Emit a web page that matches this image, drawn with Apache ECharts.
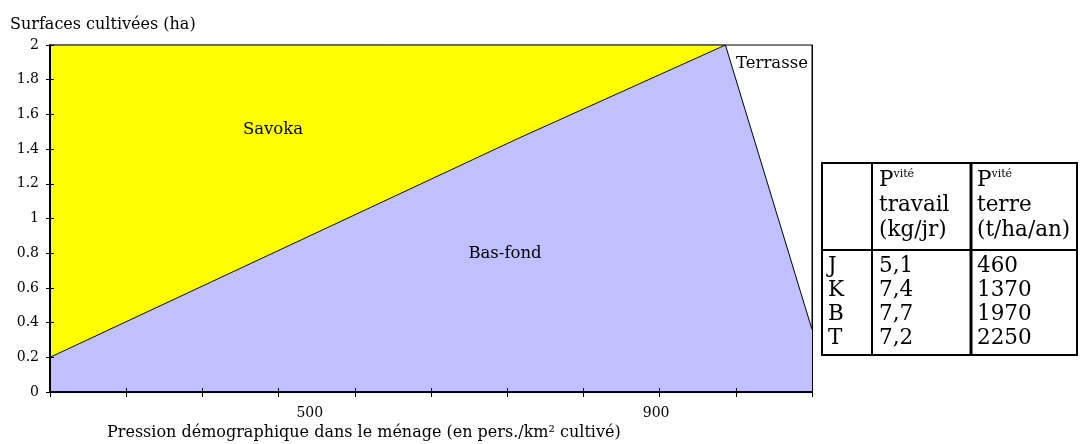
<!DOCTYPE html>
<html>
<head>
<meta charset="utf-8">
<script src="https://cdn.jsdelivr.net/npm/echarts@6/dist/echarts.min.js"></script>
<style>
html,body{margin:0;padding:0;background:#fff;}
#chart{width:1080px;height:444px;}
</style>
</head>
<body>
<div id="chart"></div>
<script>
// ---- data ----
const xTicks = [200, 288, 376, 464, 552, 640, 728, 816, 904, 992, 1080];
const xLabels = [500, 900];
const savokaX = [200, 980];
const savokaY = [2, 2];
const basFondX = [200, 740, 980, 1080];
const basFondY = [0.2, 1.46, 2.0, 0.36];
const tableRows = ['J', 'K', 'B', 'T'];
const prodTravail = ['5,1', '7,4', '7,7', '7,2'];
const prodTerre = ['460', '1370', '1970', '2250'];

const FONT = 'DejaVu Serif';
const chart = echarts.init(document.getElementById('chart'), null, {renderer: 'canvas'});

const savokaData = savokaX.map((x, i) => [x, savokaY[i]]);
const basFondData = basFondX.map((x, i) => [x, basFondY[i]]);

// table graphics
const tX = 822, tY = 163, tW = 255, tH = 192;
const c1 = 872, c2 = 971, hSep = 250;
const rowY = [266, 290, 314, 338];
const TF = 21.5;
const tableEls = [
  {type: 'rect', shape: {x: tX, y: tY, width: tW, height: tH}, style: {fill: 'none', stroke: '#000', lineWidth: 2}},
  {type: 'line', shape: {x1: c1, y1: tY, x2: c1, y2: tY + tH}, style: {stroke: '#000', lineWidth: 2}},
  {type: 'line', shape: {x1: c2, y1: tY, x2: c2, y2: tY + tH}, style: {stroke: '#000', lineWidth: 3}},
  {type: 'line', shape: {x1: tX, y1: hSep, x2: tX + tW, y2: hSep}, style: {stroke: '#000', lineWidth: 2}}
];
const hdr = (x, w1, w2) => [
  {type: 'text', x: x, y: 169, style: {text: '{p|P}{s|vité}', verticalAlign: 'top', rich: {p: {fontFamily: FONT, fontSize: TF, fill: '#000', verticalAlign: 'top'}, s: {fontFamily: FONT, fontSize: 11, fill: '#000', verticalAlign: 'top'}}}},
  {type: 'text', x: x, y: 205, style: {text: w1, fontFamily: FONT, fontSize: TF, fill: '#000', verticalAlign: 'middle'}},
  {type: 'text', x: x, y: 230, style: {text: w2, fontFamily: FONT, fontSize: TF, fill: '#000', verticalAlign: 'middle'}}
];
tableEls.push(...hdr(879, 'travail', '(kg/jr)'));
tableEls.push(...hdr(977, 'terre', '(t/ha/an)'));
tableRows.forEach((r, i) => {
  tableEls.push({type: 'text', x: 828, y: rowY[i], style: {text: r, fontFamily: FONT, fontSize: TF, fill: '#000', verticalAlign: 'middle'}});
  tableEls.push({type: 'text', x: 879, y: rowY[i], style: {text: prodTravail[i], fontFamily: FONT, fontSize: TF, fill: '#000', verticalAlign: 'middle'}});
  tableEls.push({type: 'text', x: 977, y: rowY[i], style: {text: prodTerre[i], fontFamily: FONT, fontSize: TF, fill: '#000', verticalAlign: 'middle'}});
});

const txt = (t, x, y, size, align) => ({type: 'text', x: x, y: y, z: 100, style: {text: t, fontFamily: FONT, fontSize: size, fill: '#000', align: align || 'center', verticalAlign: 'middle'}});

const option = {
  backgroundColor: '#fff',
  animation: false,
  grid: {left: 50, right: 268, top: 45, bottom: 52, show: true, borderColor: '#000', borderWidth: 1, backgroundColor: 'transparent'},
  xAxis: [
    {type: 'value', min: 200, max: 1080, position: 'bottom', z: 10,
     axisLine: {show: true, lineStyle: {color: '#000', width: 2}},
     axisTick: {show: true, inside: false, length: 5, customValues: xTicks, lineStyle: {color: '#000', width: 1}},
     axisLabel: {show: true, customValues: xLabels, margin: 14, fontFamily: FONT, fontSize: 14, color: '#000'},
     splitLine: {show: false}},
    {type: 'value', min: 200, max: 1080, position: 'bottom', offset: 0, z: 10,
     axisLine: {show: false},
     axisTick: {show: true, inside: true, length: 4, customValues: xTicks, lineStyle: {color: '#000', width: 1}},
     axisLabel: {show: false}, splitLine: {show: false}}
  ],
  yAxis: [
    {type: 'value', min: 0, max: 2, interval: 0.2, position: 'left', z: 10,
     axisLine: {show: true, lineStyle: {color: '#000', width: 2}},
     axisTick: {show: true, inside: false, length: 4, lineStyle: {color: '#000', width: 1}},
     axisLabel: {margin: 11, fontFamily: FONT, fontSize: 14, color: '#000'},
     splitLine: {show: false}},
    {type: 'value', min: 0, max: 2, interval: 0.2, position: 'left', offset: 0, z: 10,
     axisLine: {show: false},
     axisTick: {show: true, inside: true, length: 4, lineStyle: {color: '#000', width: 1}},
     axisLabel: {show: false}, splitLine: {show: false}},
    {type: 'value', min: 0, max: 2, position: 'right', offset: 0, z: 10,
     axisLine: {show: true, lineStyle: {color: '#000', width: 1}},
     axisTick: {show: false}, axisLabel: {show: false}, splitLine: {show: false}}
  ],
  series: [
    {name: 'Savoka', type: 'line', data: savokaData, symbol: 'none', z: 2,
     lineStyle: {color: '#000', width: 1}, areaStyle: {color: '#FFFF00', opacity: 1}},
    {name: 'Bas-fond', type: 'line', data: basFondData, symbol: 'none', z: 3,
     lineStyle: {color: '#000', width: 1}, areaStyle: {color: '#C0C0FF', opacity: 1}}
  ],
  graphic: [
    txt('Surfaces cultivées (ha)', 10, 25, 16, 'left'),
    txt('Pression démographique dans le ménage (en pers./km² cultivé)', 107, 433, 16, 'left'),
    txt('Savoka', 273, 130, 16.5),
    txt('Bas-fond', 505, 254, 16.5),
    txt('Terrasse', 772, 64, 16.5),
    ...tableEls
  ]
};
chart.setOption(option);
</script>
</body>
</html>
